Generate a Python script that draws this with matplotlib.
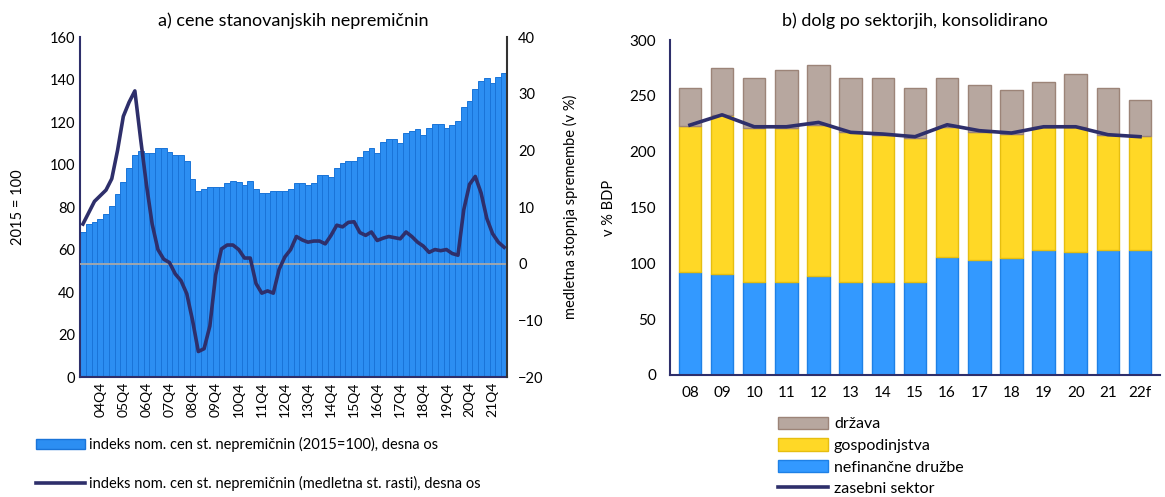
import matplotlib.pyplot as plt
import numpy as np
from matplotlib.patches import Patch
from matplotlib.lines import Line2D

plt.rcParams['font.family'] = ['Lato', 'DejaVu Sans']

# a) house prices, 2004Q1 - 2022Q2
quarters = [f"{y:02d}Q{q}" for y in range(4, 23) for q in range(1, 5)][:74]
index_vals = [68.4, 72.0, 73.0, 74.2, 76.5, 80.3, 86.1, 91.6, 98.2, 104.5,
              106.5, 105.6, 105.6, 107.6, 107.6, 105.7, 104.5, 104.5, 101.8, 93.2,
              87.7, 88.7, 89.6, 89.6, 89.6, 91.5, 92.2, 91.6, 90.6, 92.2,
              88.7, 86.7, 86.7, 87.5, 87.5, 87.5, 88.3, 91.5, 91.5, 90.6,
              91.5, 95.0, 95.0, 94.3, 98.5, 100.8, 101.6, 101.6, 103.7, 106.4,
              107.6, 105.6, 110.7, 112.0, 112.0, 110.3, 115.0, 115.8, 116.5, 113.9,
              117.0, 119.3, 119.3, 117.0, 118.6, 120.5, 126.9, 130.0, 135.4, 139.3,
              140.8, 138.6, 141.0, 143.2]
growth_vals = [7.0, 9.0, 11.0, 12.0, 13.0, 15.0, 20.0, 26.0, 28.5, 30.5,
               22.0, 14.0, 7.0, 2.5, 0.8, 0.2, -1.8, -3.0, -5.3, -10.0,
               -15.5, -15.0, -11.0, -2.0, 2.6, 3.3, 3.3, 2.5, 1.0, 1.0,
               -3.5, -5.2, -4.8, -5.2, -1.0, 1.2, 2.5, 4.8, 4.2, 3.8,
               4.0, 4.0, 3.5, 5.0, 6.8, 6.5, 7.3, 7.4, 5.5, 5.0,
               5.6, 4.1, 4.5, 4.8, 4.6, 4.4, 5.6, 4.8, 3.8, 3.1,
               2.0, 2.5, 2.3, 2.5, 1.8, 1.5, 9.5, 14.0, 15.4, 12.5,
               8.0, 5.3, 3.8, 2.9]

# b) debt by sector
years = ['08', '09', '10', '11', '12', '13', '14', '15', '16', '17', '18', '19', '20', '21', '22f']
nfc = [92.2, 90.1, 82.9, 82.9, 88.3, 82.9, 82.9, 82.9, 106.0, 102.7, 104.8, 111.7, 110.2, 111.7, 111.7]
households = [130.7, 142.9, 138.5, 138.5, 135.7, 134.7, 132.0, 129.3, 116.3, 114.6, 111.0, 110.6, 112.1, 103.2, 102.0]
state = [34.5, 42.0, 45.0, 52.1, 53.4, 48.8, 51.5, 45.2, 44.1, 42.2, 39.6, 40.5, 47.7, 42.5, 32.7]
private = [223.8, 233.0, 222.3, 222.3, 226.2, 217.3, 215.8, 213.4, 224.1, 218.8, 216.7, 222.3, 222.3, 215.2, 213.4]

navy = '#2E2F6B'
blue_l = '#2C8EF2'
fig = plt.figure(figsize=(11.65, 4.97), dpi=100)

# ---- left panel
ax = fig.add_axes([0.0687, 0.2414, 0.3665, 0.684])
x = np.arange(len(index_vals))
ax.bar(x, index_vals, width=1.0, color=blue_l, edgecolor='#1A74D8', linewidth=0.7)
ax.set_xlim(-0.5, len(x) - 0.5)
ax.set_ylim(0, 160)
ax.set_yticks(range(0, 161, 20))
ticks = list(range(3, len(x), 4))
ax.set_xticks(ticks)
ax.set_xticklabels([quarters[i] for i in ticks], rotation=90)
ax.tick_params(axis='both', length=0, labelsize=10.5)
ax.tick_params(axis='x', labelsize=10)
ax.set_ylabel('2015 = 100', fontsize=10.5, labelpad=18)
ax.spines['top'].set_visible(False)
ax.spines['right'].set_visible(False)
ax.spines['left'].set_color(navy)
ax.spines['bottom'].set_color(navy)
ax.spines['left'].set_linewidth(1.5)
ax.spines['bottom'].set_linewidth(1.5)
ax.set_title('a) cene stanovanjskih nepremičnin', fontsize=13, pad=8)

ax2 = ax.twinx()
ax2.axhline(0, color='#A8A8A8', lw=1.3)
ax2.plot(x, growth_vals, color=navy, lw=2.6)
ax2.set_ylim(-20, 40)
ax2.set_yticks(range(-20, 41, 10))
ax2.tick_params(axis='y', length=0, labelsize=10.5, pad=8)
ax2.set_ylabel('medletna stopnja spremembe (v %)', fontsize=10.5, labelpad=14)
ax2.spines['top'].set_visible(False)
ax2.spines['left'].set_visible(False)
ax2.spines['bottom'].set_visible(False)
ax2.spines['right'].set_color('#333333')
ax2.spines['right'].set_linewidth(1.5)

h1 = [Patch(facecolor=blue_l, edgecolor='#1A74D8'),
      Line2D([0], [0], color=navy, lw=2.6)]
l1 = ['indeks nom. cen st. nepremičnin (2015=100), desna os',
      'indeks nom. cen st. nepremičnin (medletna st. rasti), desna os']
fig.legend(h1, l1, loc='upper left', bbox_to_anchor=(0.025, 0.135), frameon=False,
           fontsize=10.5, handlelength=3.3, labelspacing=1.6, handletextpad=0.3,
           borderpad=0)

# ---- right panel
bx = fig.add_axes([0.5751, 0.2455, 0.4206, 0.674])
xb = np.arange(len(years))
w = 0.7
bx.bar(xb, nfc, w, color='#3399FF', edgecolor='#1E80E6', linewidth=1, label='nefinančne družbe')
bx.bar(xb, households, w, bottom=nfc, color='#FFD826', edgecolor='#E6BE10', linewidth=1,
       label='gospodinjstva')
base2 = np.array(nfc) + np.array(households)
bx.bar(xb, state, w, bottom=base2, color='#B7A79F', edgecolor='#9C8478', linewidth=1,
       label='država')
bx.plot(xb, private, color=navy, lw=2.6, label='zasebni sektor')
bx.set_xlim(-0.62, len(xb) - 0.38)
bx.set_ylim(0, 300)
bx.set_yticks(range(0, 301, 50))
bx.set_xticks(xb)
bx.set_xticklabels(years)
bx.tick_params(axis='both', length=0, labelsize=11)
bx.tick_params(axis='x', pad=8)
bx.tick_params(axis='y', pad=10)
bx.set_ylabel('v % BDP', fontsize=10.5, labelpad=10)
for s in ['top', 'right']:
    bx.spines[s].set_visible(False)
bx.spines['left'].set_color(navy)
bx.spines['bottom'].set_color(navy)
bx.spines['left'].set_linewidth(1.5)
bx.spines['bottom'].set_linewidth(1.5)
bx.set_title('b) dolg po sektorjih, konsolidirano', fontsize=13, pad=10)

hb, lb = bx.get_legend_handles_labels()
order = [3, 2, 1, 0]
fig.legend([hb[i] for i in order], [lb[i] for i in order], loc='upper left',
           bbox_to_anchor=(0.661, 0.178), frameon=False, fontsize=11.5,
           handlelength=3.1, handleheight=0.85, labelspacing=0.42, handletextpad=0.4,
           borderpad=0)

fig.savefig('out.png', dpi=100)
